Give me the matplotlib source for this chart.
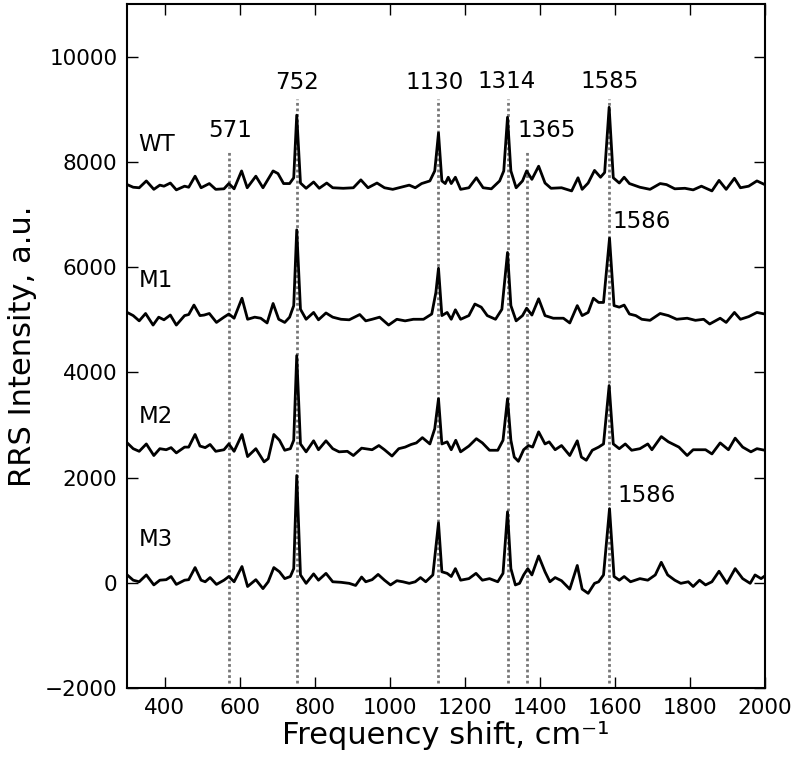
import matplotlib

matplotlib.use("Agg")
import matplotlib.pyplot as plt

# spectra: (shift, intensity above the trace offset)
wt_shift = [300, 316, 332, 351, 371, 387, 398, 415, 431, 453, 464, 481, 497, 519, 536, 558, 571, 585, 605, 620,
            643, 662, 689, 702, 717, 733, 744, 752, 762, 777, 797, 812, 832, 848, 876, 903, 923, 942, 966, 986,
            1008, 1030, 1052, 1068, 1085, 1107, 1120, 1130, 1139, 1148, 1156, 1164, 1175, 1189, 1211, 1231, 1249,
            1271, 1293, 1304, 1314, 1323, 1337, 1354, 1365, 1379, 1397, 1414, 1430, 1458, 1485, 1502, 1513, 1529,
            1546, 1562, 1573, 1585, 1596, 1612, 1625, 1639, 1667, 1694, 1721, 1738, 1760, 1787, 1809, 1831, 1859,
            1878, 1897, 1919, 1935, 1957, 1979, 2000]
wt_counts = [70, 20, 10, 140, -20, 60, 40, 100, -30, 40, 20, 230, 10, 90, -20, -10, 90, -10, 330, 10,
             230, 10, 330, 280, 90, 90, 200, 1390, 100, 0, 120, 0, 100, 10, 0, 10, 160, 10, 100, 10,
             -20, 20, 60, 10, 90, 140, 330, 1050, 140, 90, 210, 90, 210, -20, 10, 200, 10,
             -10, 140, 330, 1350, 330, 10, 140, 330, 170, 420, 100, 0, 10, -50, 200, -20, 100,
             340, 210, 300, 1540, 200, 100, 210, 90, 20, -20, 90, 70, -10, 0, -30, 40, -50,
             150, -20, 190, 10, 40, 140, 70]

m1_shift = [300, 316, 332, 349, 369, 384, 398, 415, 431, 453, 464, 478, 494, 505, 519, 538, 558, 571, 585, 606,
            621, 640, 656, 673, 689, 704, 720, 733, 744, 752, 762, 777, 797, 810, 830, 848, 870, 892, 920, 936,
            953, 973, 997, 1019, 1041, 1063, 1090, 1112, 1123, 1130, 1139, 1153, 1164, 1175, 1189, 1211, 1227,
            1244, 1260, 1282, 1299, 1314, 1323, 1337, 1354, 1365, 1379, 1397, 1414, 1436, 1463, 1480, 1500, 1513,
            1529, 1543, 1557, 1570, 1586, 1598, 1612, 1625, 1639, 1656, 1672, 1694, 1721, 1743, 1765, 1793, 1815,
            1837, 1853, 1881, 1897, 1919, 1935, 1957, 1979, 2000]
m1_counts = [140, 80, -20, 120, -100, 50, 0, 90, -100, 80, 100, 280, 80, 90, 120, -50, 50, 110, 30, 410,
             10, 50, 30, -60, 310, 10, -50, 50, 270, 1710, 200, 10, 140, 0, 130, 50, 10, 0, 100, -20,
             10, 50, -100, 10, -20, 10, 10, 110, 520, 980, 80, 140, 10, 190, 10, 80, 300,
             240, 80, 10, 200, 1280, 270, -20, 80, 220, 90, 400, 80, 30, 30, -60, 270, 80,
             140, 410, 330, 330, 1550, 270, 240, 280, 110, 80, 10, -10, 120, 80, 10, 30, -10,
             10, -80, 30, -50, 140, 10, 60, 140, 110]

m2_shift = [300, 316, 332, 351, 371, 387, 404, 417, 431, 453, 464, 481, 494, 508, 521, 536, 558, 571, 585, 606,
            621, 643, 665, 676, 691, 706, 720, 735, 744, 752, 762, 777, 797, 810, 830, 848, 865, 887, 903, 925,
            953, 971, 986, 1006, 1024, 1041, 1057, 1071, 1087, 1107, 1120, 1130, 1139, 1153, 1164, 1176, 1189,
            1211, 1231, 1247, 1266, 1288, 1302, 1314, 1323, 1332, 1343, 1357, 1370, 1381, 1397, 1414, 1425, 1441,
            1458, 1480, 1500, 1511, 1524, 1540, 1557, 1570, 1585, 1596, 1612, 1628, 1645, 1667, 1688, 1699, 1724,
            1743, 1771, 1793, 1809, 1842, 1859, 1881, 1903, 1921, 1941, 1963, 1979, 2000]
m2_counts = [160, 50, 0, 140, -80, 50, 30, 70, -30, 80, 80, 320, 100, 70, 130, 0, 30, 140, 0, 320,
             -100, 50, -200, -140, 320, 210, 20, 50, 210, 1820, 140, -10, 200, 30, 200, 50, -10, 0, -80, 60,
             30, 110, 30, -90, 50, 80, 130, 160, 260, 140, 430, 1000, 140, 180, 30, 210, -10,
             100, 240, 160, 20, 20, 210, 1000, 210, -110, -190, 30, 110, 80, 370, 140, 180, 30,
             110, -80, 200, -110, -170, 20, 80, 140, 1250, 140, 50, 140, 20, 50, 140, 30, 280,
             180, 80, -80, 30, 30, -50, 160, 30, 250, 80, -10, 50, 20]

m3_shift = [300, 316, 332, 351, 371, 387, 404, 417, 431, 453, 464, 481, 497, 508, 521, 538, 558, 571, 585, 606,
            621, 643, 662, 676, 691, 706, 720, 735, 744, 752, 762, 777, 797, 810, 830, 848, 870, 892, 909, 925,
            936, 953, 969, 986, 1002, 1019, 1035, 1052, 1068, 1082, 1096, 1115, 1130, 1139, 1153, 1164, 1175,
            1189, 1211, 1230, 1247, 1266, 1288, 1302, 1314, 1323, 1335, 1346, 1357, 1368, 1379, 1397, 1414, 1427,
            1441, 1458, 1480, 1500, 1513, 1529, 1546, 1557, 1570, 1586, 1598, 1612, 1625, 1642, 1667, 1688, 1708,
            1724, 1741, 1760, 1776, 1796, 1809, 1826, 1842, 1859, 1878, 1899, 1921, 1941, 1961, 1974, 1990, 2000]
m3_counts = [150, 50, 20, 150, -40, 50, 60, 120, -30, 50, 60, 290, 50, 20, 100, -30, 50, 120, 20, 310,
             -70, 60, -110, 20, 290, 210, 80, 120, 270, 2040, 150, -10, 170, 50, 180, 20, 10, -10, -50, 110,
             20, 60, 160, 50, -40, 40, 20, -10, 20, 100, 20, 150, 1140, 210, 180, 120, 270,
             50, 80, 180, 50, 80, 20, 180, 1350, 270, -40, -10, 150, 270, 150, 510, 210, 20,
             100, 40, -120, 330, -120, -200, -10, 20, 150, 1410, 120, 50, 120, 20, 80, 50, 150,
             390, 150, 50, -10, 20, -70, 50, -40, 20, 220, -10, 270, 80, -10, 150, 80, 130]

sample_names = ["WT", "M1", "M2", "M3"]
sample_offsets = [7500, 5000, 2500, 0]
name_y = [8330, 5740, 3170, 830]

marker_shifts = [571, 752, 1130, 1314, 1365, 1585]
marker_tops = [8200, 9200, 9200, 9200, 8200, 9200]

# peak labels: text, x, y, alignment
peak_labels = [
    ("571", 575, 8590, "center"),
    ("752", 752, 9510, "center"),
    ("1130", 1120, 9510, "center"),
    ("1314", 1312, 9530, "center"),
    ("1585", 1585, 9530, "center"),
    ("1365", 1340, 8590, "left"),
    ("1586", 1594, 6870, "left"),
    ("1586", 1607, 1660, "left"),
]


def main() -> None:
    fig = plt.figure(figsize=(8.0, 7.59), dpi=100)
    ax = fig.add_axes([0.159, 0.0935, 0.797, 0.901])

    ax.vlines(marker_shifts, -1900, marker_tops, colors="#777777",
              linestyles=(0, (1, 1)), linewidth=2.0)

    spectra = [(wt_shift, wt_counts), (m1_shift, m1_counts), (m2_shift, m2_counts), (m3_shift, m3_counts)]
    for (xs, ys), offset in zip(spectra, sample_offsets):
        ax.plot(xs, [v + offset for v in ys], color="black", linewidth=2.0)

    for name, y in zip(sample_names, name_y):
        ax.text(330, y, name, fontsize=16.5, ha="left", va="center")
    for label, x, y, ha in peak_labels:
        ax.text(x, y, label, fontsize=16.5, ha=ha, va="center")

    ax.set_xlim(300, 2000)
    ax.set_ylim(-2000, 11000)
    ax.set_xticks(range(400, 2001, 200))
    ax.set_yticks(range(-2000, 10001, 2000))
    ax.tick_params(direction="in", length=8, width=1, top=True, right=True, labelsize=15.5, pad=7)
    for spine in ax.spines.values():
        spine.set_linewidth(1.5)

    ax.set_xlabel("Frequency shift, cm\u207b\u00b9", fontsize=22, labelpad=2)
    ax.set_ylabel("RRS Intensity, a.u.", fontsize=22, labelpad=6)

    fig.savefig("out.png", dpi=100)
    plt.close(fig)


if __name__ == "__main__":
    main()
